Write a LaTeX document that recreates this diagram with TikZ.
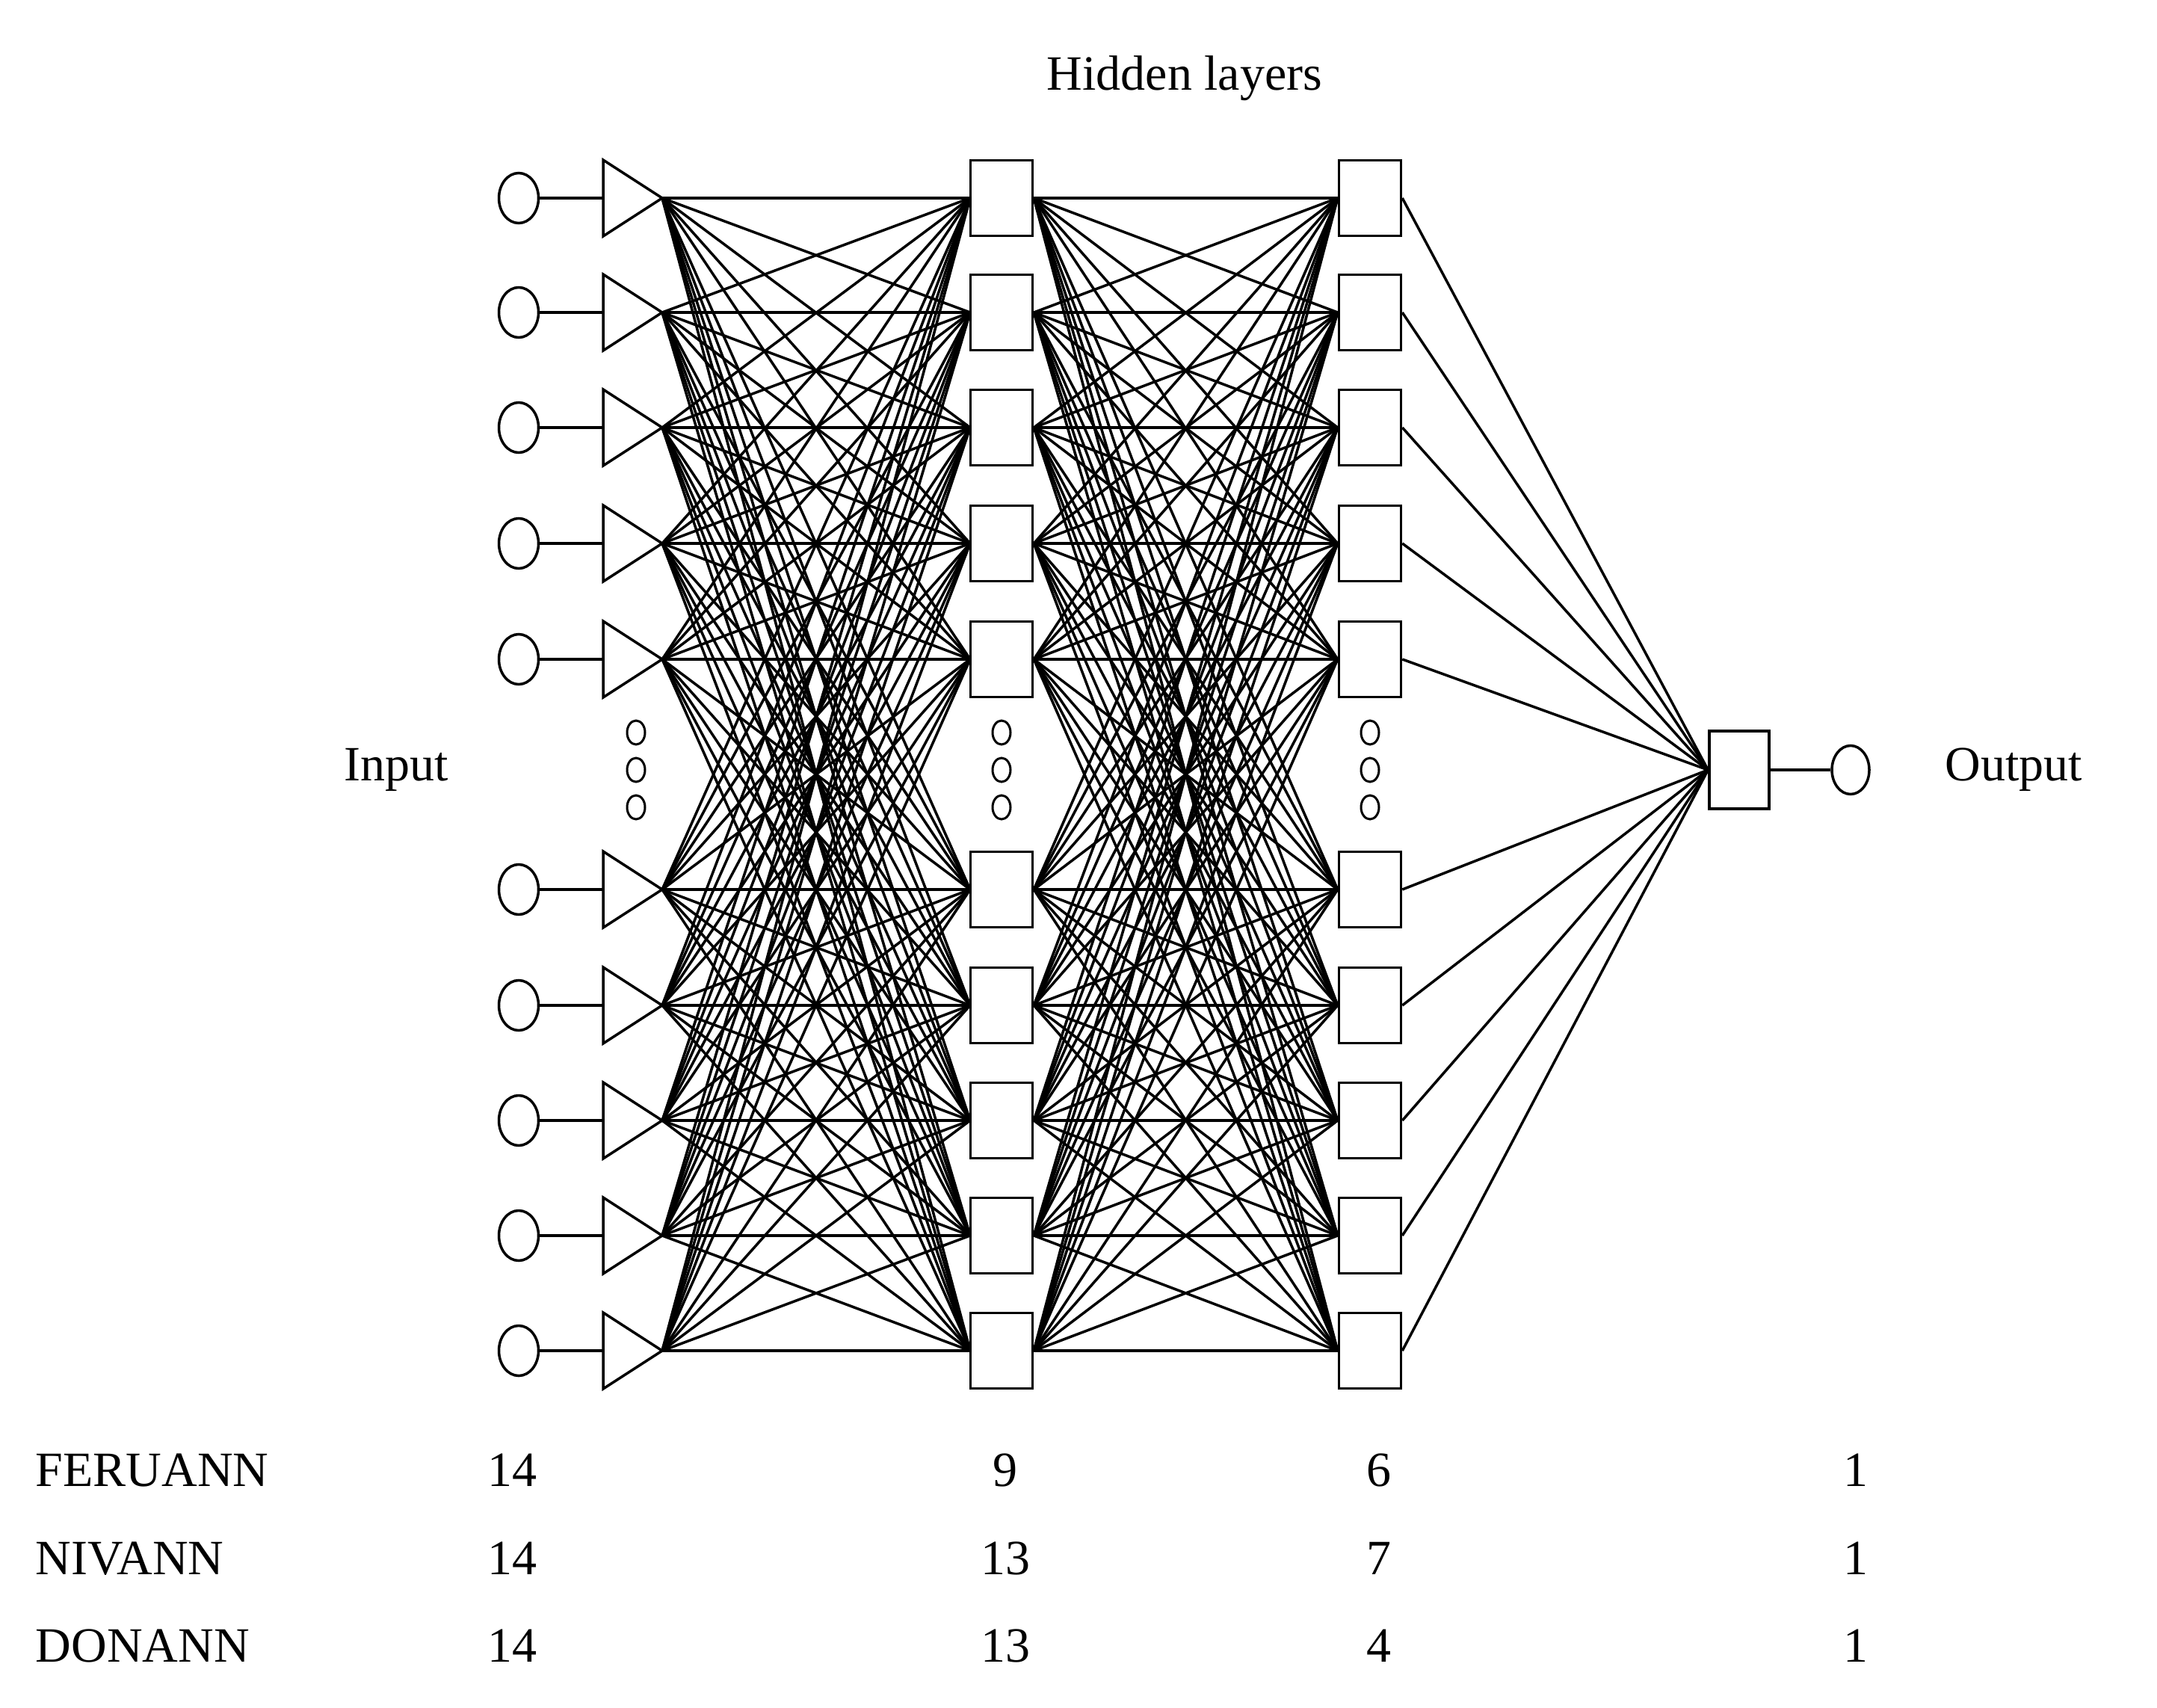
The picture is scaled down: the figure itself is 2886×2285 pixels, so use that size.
\documentclass[tikz,border=0pt]{standalone}
\usepackage{fontspec}
\setmainfont{Liberation Serif}
\usetikzlibrary{shapes.geometric}
\begin{document}
\begin{tikzpicture}[x=1pt,y=-1pt,line width=3.5pt,
  inc/.style={draw,ellipse,minimum width=53pt,minimum height=67pt,inner sep=0pt},
  sq/.style={draw,fill=white,rectangle,minimum width=83pt,minimum height=101pt,inner sep=0pt},
  dot/.style={draw,ellipse,minimum width=24pt,minimum height=32pt,inner sep=0pt,line width=3pt},
  lab/.style={font=\fontsize{66}{70}\selectfont,inner sep=0pt}]
\useasboundingbox (0,0) rectangle (2886,2285);
\def\rows{265,418,572,727,882,1190,1345,1499,1653,1807}
\foreach \y [count=\i] in \rows {
  \node[inc] (c\i) at (694,\y) {};
  \coordinate (t\i) at (886,\y);
  \draw (c\i) -- (807,\y);
  \draw[fill=white] (807,\y-51) -- (t\i) -- (807,\y+51) -- cycle;
}
\foreach \y [count=\i] in \rows {
  \foreach \j in {1,...,10} { \draw (t\j) -- (1298,\y); }
}
\foreach \y [count=\i] in \rows {
  \node[sq] (a\i) at (1340,\y) {};
  \node[sq] (b\i) at (1833,\y) {};
}
\node[sq,minimum width=80pt,minimum height=104pt] (o) at (2327,1030) {};
\foreach \i in {1,...,10} { \foreach \j in {1,...,10} { \draw (a\i.east) -- (b\j.west); } }
\foreach \i in {1,...,10} { \draw (b\i.east) -- (o.west); }
\node[inc,minimum width=50pt,minimum height=65pt] (oc) at (2476,1030) {};
\draw (o) -- (oc);
\foreach \x in {851,1340,1833} { \foreach \y in {980,1030,1080} { \node[dot] at (\x,\y) {}; } }
\node[lab] at (1585,105) {Hidden layers};
\node[lab,anchor=west] at (459,1030) {Input};
\node[lab,anchor=west] at (2601,1030) {Output};
\foreach \n/\a/\b/\c/\y in {FERUANN/9/6/1967, NIVANN/13/7/2085, DONANN/13/4/2202} {
  \node[lab,anchor=west] at (46,\y) {\n};
  \node[lab] at (685,\y) {14};
  \node[lab] at (1345,\y) {\a};
  \node[lab] at (1845,\y) {\b};
  \node[lab] at (2483,\y) {1};
}
\end{tikzpicture}
\end{document}
